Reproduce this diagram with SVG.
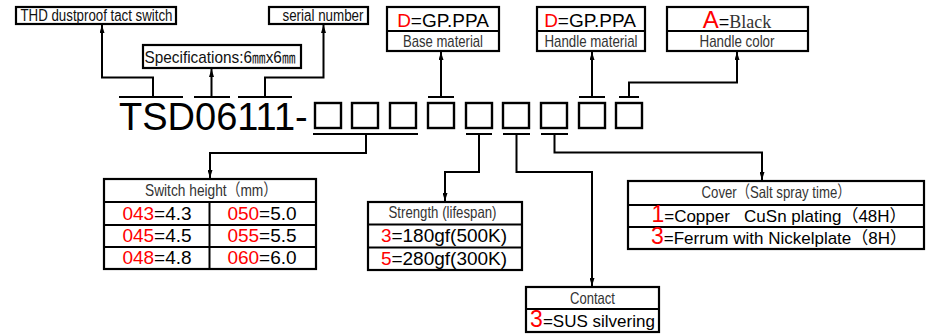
<svg xmlns="http://www.w3.org/2000/svg" width="933" height="336" viewBox="0 0 933 336">
<defs>
<style>
.bx{fill:#fff;stroke:#000;stroke-width:2.2}
.sq{fill:none;stroke:#000;stroke-width:2.4}
.ln{fill:none;stroke:#000;stroke-width:2}
.nar{font-family:"Liberation Sans Narrow","Liberation Sans",Arial,"Noto Sans CJK SC",sans-serif;fill:#333;text-anchor:middle}
.sans{font-family:"Liberation Sans",Arial,"Noto Sans CJK SC",sans-serif;fill:#000}
.red{fill:#f00}
.mid{text-anchor:middle}
</style>
<marker id="arr" viewBox="0 0 10 10" refX="10" refY="5" markerWidth="8" markerHeight="5" markerUnits="userSpaceOnUse" orient="auto" preserveAspectRatio="none">
<path d="M0,0 L10,5 L0,10 z" fill="#000"/>
</marker>
</defs>
<rect width="933" height="336" fill="#fff"/>

<g id="code">
<text x="119" y="130" class="sans" font-size="38">TSD06111-</text>
<rect class="sq" x="315" y="103" width="26" height="25"/>
<rect class="sq" x="352" y="103" width="26" height="25"/>
<rect class="sq" x="390" y="103" width="26" height="25"/>
<rect class="sq" x="428" y="103" width="26" height="25"/>
<rect class="sq" x="466" y="103" width="26" height="25"/>
<rect class="sq" x="503" y="103" width="26" height="25"/>
<rect class="sq" x="541" y="103" width="26" height="25"/>
<rect class="sq" x="579" y="103" width="26" height="25"/>
<rect class="sq" x="616" y="103" width="26" height="25"/>
</g>

<g id="thd">
<rect class="bx" x="16" y="7" width="160" height="17"/>
<text x="96.5" y="21" class="nar" font-size="16" textLength="152" lengthAdjust="spacingAndGlyphs" style="fill:#111">THD dustproof tact switch</text>
</g>
<g id="spec">
<rect class="bx" x="143" y="45" width="158" height="23"/>
<text x="220" y="63" class="nar" font-size="17" textLength="151" lengthAdjust="spacingAndGlyphs" style="fill:#111">Specifications:6<tspan font-family="'Liberation Serif','Noto Sans CJK SC',serif" font-size="15">㎜</tspan><tspan font-family="'Liberation Sans',sans-serif" font-size="17">x</tspan>6<tspan font-family="'Liberation Serif','Noto Sans CJK SC',serif" font-size="15">㎜</tspan></text>
</g>
<g id="serial">
<rect class="bx" x="269" y="7" width="99" height="17"/>
<text x="323" y="21" class="nar" font-size="16" textLength="81" lengthAdjust="spacingAndGlyphs" style="fill:#111">serial number</text>
</g>

<g id="base">
<rect class="bx" x="387" y="7" width="112" height="44"/>
<line class="ln" x1="387" y1="31" x2="499" y2="31"/>
<text x="443" y="27" class="sans mid" font-size="19"><tspan class="red">D</tspan>=GP.PPA</text>
<text x="443" y="47" class="nar" font-size="17" textLength="80" lengthAdjust="spacingAndGlyphs">Base material</text>
</g>
<g id="handlemat">
<rect class="bx" x="537" y="7" width="108" height="44"/>
<line class="ln" x1="537" y1="31" x2="645" y2="31"/>
<text x="590" y="27" class="sans mid" font-size="19"><tspan class="red">D</tspan>=GP.PPA</text>
<text x="591" y="47" class="nar" font-size="17" textLength="93" lengthAdjust="spacingAndGlyphs">Handle material</text>
</g>
<g id="handlecolor">
<rect class="bx" x="667" y="7" width="141" height="44"/>
<line class="ln" x1="667" y1="31" x2="808" y2="31"/>
<text x="737" y="28" class="sans mid" font-size="18"><tspan class="red" font-size="24">A</tspan>=<tspan font-family="'Liberation Serif',serif" fill="#333">Black</tspan></text>
<text x="737" y="47" class="nar" font-size="17" textLength="75" lengthAdjust="spacingAndGlyphs">Handle color</text>
</g>

<g id="height">
<rect class="bx" x="104" y="179" width="212" height="90"/>
<line class="ln" x1="104" y1="202" x2="316" y2="202"/>
<line class="ln" x1="104" y1="225" x2="316" y2="225"/>
<line class="ln" x1="104" y1="247" x2="316" y2="247"/>
<line class="ln" x1="209.5" y1="202" x2="209.5" y2="269"/>
<text x="211" y="196" class="nar" font-size="16.5" textLength="132" lengthAdjust="spacingAndGlyphs">Switch height（mm）</text>
<text x="157" y="220" class="sans mid" font-size="19"><tspan class="red">043</tspan>=4.3</text>
<text x="262" y="220" class="sans mid" font-size="19"><tspan class="red">050</tspan>=5.0</text>
<text x="157" y="242" class="sans mid" font-size="19"><tspan class="red">045</tspan>=4.5</text>
<text x="262" y="242" class="sans mid" font-size="19"><tspan class="red">055</tspan>=5.5</text>
<text x="157" y="264" class="sans mid" font-size="19"><tspan class="red">048</tspan>=4.8</text>
<text x="262" y="264" class="sans mid" font-size="19"><tspan class="red">060</tspan>=6.0</text>
</g>

<g id="strength">
<rect class="bx" x="368" y="202" width="154" height="68"/>
<line class="ln" x1="368" y1="224.5" x2="522" y2="224.5"/>
<line class="ln" x1="368" y1="247.5" x2="522" y2="247.5"/>
<text x="442.5" y="218" class="nar" font-size="16.5" textLength="108" lengthAdjust="spacingAndGlyphs">Strength (lifespan)</text>
<text x="444" y="241.5" class="sans mid" font-size="19"><tspan class="red">3</tspan>=180gf(500K)</text>
<text x="444" y="264.5" class="sans mid" font-size="19"><tspan class="red">5</tspan>=280gf(300K)</text>
</g>

<g id="contact">
<rect class="bx" x="526" y="287" width="133" height="45"/>
<line class="ln" x1="526" y1="309" x2="659" y2="309"/>
<text x="592.5" y="304" class="nar" font-size="16.5" textLength="45" lengthAdjust="spacingAndGlyphs">Contact</text>
<text x="592.5" y="327" class="sans mid" font-size="17"><tspan class="red" font-size="23">3</tspan>=SUS silvering</text>
</g>

<g id="cover">
<rect class="bx" x="628" y="181" width="296" height="68"/>
<line class="ln" x1="628" y1="205" x2="924" y2="205"/>
<line class="ln" x1="628" y1="227" x2="924" y2="227"/>
<text x="776" y="198" class="nar" font-size="16.5" textLength="149" lengthAdjust="spacingAndGlyphs">Cover（Salt spray time）</text>
<text x="779" y="222" class="sans mid" font-size="17" xml:space="preserve"><tspan class="red" font-size="23">1</tspan>=Copper   CuSn plating（48H）</text>
<text x="779" y="244" class="sans mid" font-size="17"><tspan class="red" font-size="23">3</tspan>=Ferrum with Nickelplate（8H）</text>
</g>

<g id="connectors">
<path class="ln" d="M119,97 H183 M194,97 H230 M238,97 H292 M428,97 H454 M579,97 H605 M619,97 H639"/>
<path class="ln" d="M313,134 H418 M466,134 H492 M503,134 H530 M541,134 H568"/>
<path class="ln" marker-end="url(#arr)" d="M153,97 V77.5 H102 V25"/>
<path class="ln" marker-end="url(#arr)" d="M211.5,97 V69"/>
<path class="ln" marker-end="url(#arr)" d="M265,97 V77.5 H323.5 V25"/>
<path class="ln" marker-end="url(#arr)" d="M441,97 V52"/>
<path class="ln" marker-end="url(#arr)" d="M592,97 V52"/>
<path class="ln" marker-end="url(#arr)" d="M629,97 V82.5 H737 V52"/>
<path class="ln" marker-end="url(#arr)" d="M366,134 V153 H210 V178"/>
<path class="ln" marker-end="url(#arr)" d="M479,134 V172 H445 V201"/>
<path class="ln" marker-end="url(#arr)" d="M516.5,134 V172 H592 V286"/>
<path class="ln" marker-end="url(#arr)" d="M554.5,134 V152.5 H762 V180"/>
</g>
</svg>
